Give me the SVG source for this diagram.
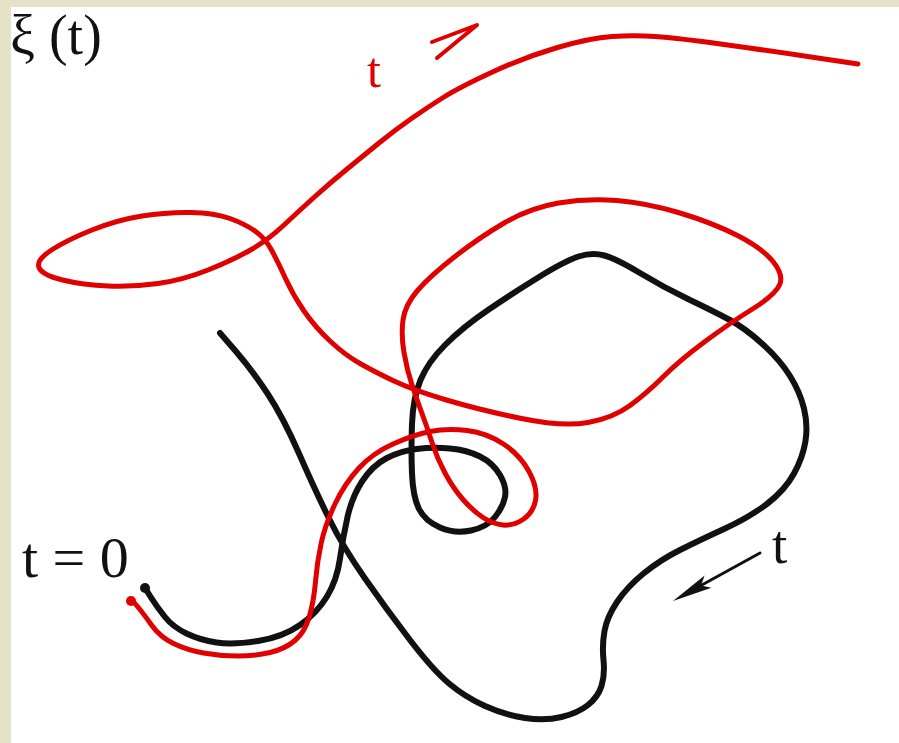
<svg xmlns="http://www.w3.org/2000/svg" width="899" height="743" viewBox="0 0 899 743">
<style>
.blk{fill:none;stroke:#111;stroke-width:6;stroke-linecap:round;stroke-linejoin:round}
.red{fill:none;stroke:#e00000;stroke-width:5;stroke-linecap:round;stroke-linejoin:round}
.lbl{font-family:"Liberation Serif","Times New Roman",serif;fill:#111}
</style>
<rect x="0" y="0" width="899" height="743" fill="#ffffff"/>
<rect x="0" y="0" width="899" height="7" fill="#e5e2c8"/>
<rect x="0" y="0" width="11" height="743" fill="#e5e2c8"/>
<g id="curve-black">
<path class="blk" d="M145,588 L151,597.5 Q157,607 165,617 Q173,627 186.5,633.5 Q200,640 216.5,642.5 Q233,645 258,641 Q283,637 300,625 Q317,613 327,596.5 Q337,580 340,558.5 Q343,537 347.5,517 Q352,497 362,481.5 Q372,466 386,458.5 Q400,451 416.5,449 Q433,447 450,448.5 Q467,450 480,456.5 Q493,463 500,475 Q507,487 505,497 Q503,507 495,517 Q487,527 471,530.5 Q455,534 440,527.5 Q425,521 419,509 Q413,497 412,473.5 Q411,450 412,424 Q413,398 420.5,380 Q428,362 445.5,344.5 Q463,327 488,310 Q513,293 539,277 Q565,261 578.5,256.5 Q592,252 604.5,255.5 Q617,259 640,273 Q663,287 688,299 Q713,311 729,319.5 Q745,328 762.5,344 Q780,360 790,376 Q800,392 804,408.5 Q808,425 805.5,441 Q803,457 794,473.5 Q785,490 767.5,503.5 Q750,517 725,528.5 Q700,540 680,550 Q660,560 643.5,573.5 Q627,587 617,602 Q607,617 604.5,631 Q602,645 603.5,660 Q605,675 601.5,686 Q598,697 588,705 Q578,713 561.5,717 Q545,721 525,718 Q505,715 485,706 Q465,697 449,683.5 Q433,670 410,640 Q387,610 365,578.5 Q343,547 329,518.5 Q315,490 299,453.5 Q283,417 267.5,393.5 Q252,370 236,351.5 L220,333"/>
<circle cx="145" cy="588" r="5" fill="#111"/>
</g>
<g id="curve-red">
<path class="red" d="M132,600 L137.5,606.5 Q143,613 151.5,625 Q160,637 173.5,643.5 Q187,650 203.5,653 Q220,656 237.5,656 Q255,656 270,652.5 Q285,649 295,640.5 Q305,632 309.5,616 Q314,600 315.5,581.5 Q317,563 321,544 Q325,525 335,504 Q345,483 359,468 Q373,453 393,444 Q413,435 430,431.5 Q447,428 467,430.5 Q487,433 503.5,444 Q520,455 529,471.5 Q538,488 535.5,500.5 Q533,513 523,519.5 Q513,526 503,525 Q493,524 483,517.5 Q473,511 463,499.5 Q453,488 445,473 Q437,458 432,442.5 Q427,427 422,413.5 Q417,400 412,385 Q407,370 404,352.5 Q401,335 403,320 Q405,305 417.5,290.5 Q430,276 455,256.5 Q480,237 505,222.5 Q530,208 558.5,203 Q587,198 617,200.5 Q647,203 680,213 Q713,223 737.5,235.5 Q762,248 773,261.5 Q784,275 779.5,285 Q775,295 752.5,309 Q730,323 705,341.5 Q680,360 663.5,376.5 Q647,393 630,405.5 Q613,418 588,422.5 Q563,427 521.5,418.5 Q480,410 446.5,400 Q413,390 394,381 Q375,372 360,363.5 Q345,355 330,341 Q315,327 304,311 Q293,295 285.5,278.5 Q278,262 271.5,250 Q265,238 255,231 Q245,224 230,218.5 Q215,213 191,212.5 Q167,212 142,216 Q117,220 92,230 Q67,240 51.5,250 Q36,260 39,267.5 Q42,275 62.5,280 Q83,285 108,286 Q133,287 158,283.5 Q183,280 208,270 Q233,260 250.5,250 Q268,240 284,225 Q300,210 315,196.5 Q330,183 346.5,169.5 Q363,156 379,143 Q395,130 411.5,118.5 Q428,107 444,97 Q460,87 492.5,72 Q525,57 557.5,47.5 Q590,38 612,36.5 Q634,35 655.5,36.5 Q677,38 720.5,44 Q764,50 811,57 L858,64"/>
<circle cx="131" cy="601" r="5" fill="#e00000"/>
</g>
<g id="connectors">
<path d="M432,42 L477,25 L437,58" fill="none" stroke="#e00000" stroke-width="4" stroke-linecap="round" stroke-linejoin="round"/>
<line x1="760" y1="553" x2="700" y2="586" stroke="#111" stroke-width="3" stroke-linecap="round"/>
<polygon points="673,601 704.6,575.6 701,585.6 711.4,587.8" fill="#111"/>
</g>
<g id="labels">
<text class="lbl" x="10" y="54" font-size="56">ξ (t)</text>
<text class="lbl" x="22" y="577" font-size="58">t = 0</text>
<text class="lbl" x="772" y="563" font-size="55">t</text>
<text class="lbl" x="367" y="87" font-size="50" style="fill:#e00000">t</text>
</g>
</svg>
